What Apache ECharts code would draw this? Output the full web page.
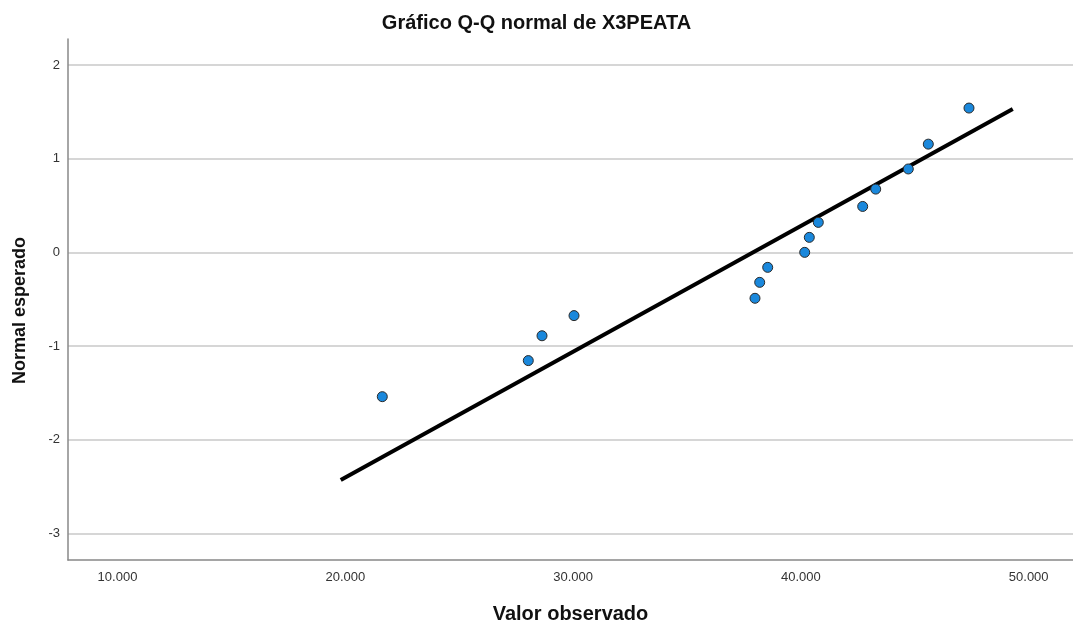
<!DOCTYPE html>
<html>
<head>
<meta charset="utf-8">
<title>Gráfico Q-Q normal de X3PEATA</title>
<script src="https://cdn.jsdelivr.net/npm/echarts@6/dist/echarts.min.js"></script>
<style>
  html, body { margin: 0; padding: 0; background: #fff; }
  #chart { width: 1073px; height: 626px; }
</style>
</head>
<body>
<div id="chart"></div>
<script>
// observed values (x) and expected normal values (y)
const observed = [21624, 28033, 28635, 30040, 37985, 38192, 38543, 40167, 40369, 40764, 42713, 43284, 44715, 45593, 47379]
const expected = [-1.54, -1.155, -0.89, -0.675, -0.49, -0.32, -0.16, 0, 0.16, 0.32, 0.49, 0.675, 0.89, 1.155, 1.54]
// reference line endpoints
const lineX = [19800, 49300]
const lineY = [-2.43, 1.53]
// tick labels
const xTicks = [10000, 20000, 30000, 40000, 50000]
const yTicks = [-3, -2, -1, 0, 1, 2]

const fmt = v => String(Math.round(v)).replace(/\B(?=(\d{3})+(?!\d))/g, '.')

const chart = echarts.init(document.getElementById('chart'))
chart.setOption({
  animation: false,
  textStyle: { fontFamily: 'Liberation Sans, Arial, sans-serif' },
  title: {
    text: 'Gráfico Q-Q normal de X3PEATA',
    left: 'center',
    top: 8,
    textStyle: { fontSize: 20, fontWeight: 'bold', color: '#111' }
  },
  grid: { left: 68, right: 0, top: 39, bottom: 66, outerBoundsMode: 'none' },
  xAxis: {
    type: 'value',
    min: 7827,
    max: 51945,
    name: 'Valor observado',
    nameLocation: 'middle',
    nameGap: 44,
    nameTextStyle: { fontSize: 20, fontWeight: 'bold', color: '#111' },
    axisLine: { onZero: false, lineStyle: { color: '#888', width: 1.5 } },
    axisTick: { show: false, customValues: xTicks },
    splitLine: { show: false },
    axisLabel: {
      color: '#333',
      fontSize: 13,
      margin: 11,
      customValues: xTicks,
      formatter: fmt
    }
  },
  yAxis: {
    type: 'value',
    min: -3.283,
    max: 2.277,
    name: 'Normal esperado',
    nameLocation: 'middle',
    nameGap: 39,
    nameTextStyle: { fontSize: 18, fontWeight: 'bold', color: '#111', padding: [0, 22, 0, 0] },
    axisLine: { show: true, onZero: false, lineStyle: { color: '#888', width: 1.5 } },
    axisTick: { show: false, customValues: yTicks },
    axisLabel: {
      color: '#333',
      fontSize: 13,
      margin: 8,
      customValues: yTicks
    },
    splitLine: {
      show: true,
      lineStyle: { color: '#c8c8c8', width: 1.5 }
    }
  },
  series: [
    {
      type: 'line',
      data: lineX.map((x, i) => [x, lineY[i]]),
      showSymbol: false,
      lineStyle: { color: '#000', width: 4 },
      z: 3
    },
    {
      type: 'scatter',
      data: observed.map((x, i) => [x, expected[i]]),
      symbolSize: 10,
      itemStyle: { color: '#1a88dc', opacity: 1, borderColor: '#2a2a2a', borderWidth: 1 },
      z: 4
    }
  ]
})
</script>
</body>
</html>
